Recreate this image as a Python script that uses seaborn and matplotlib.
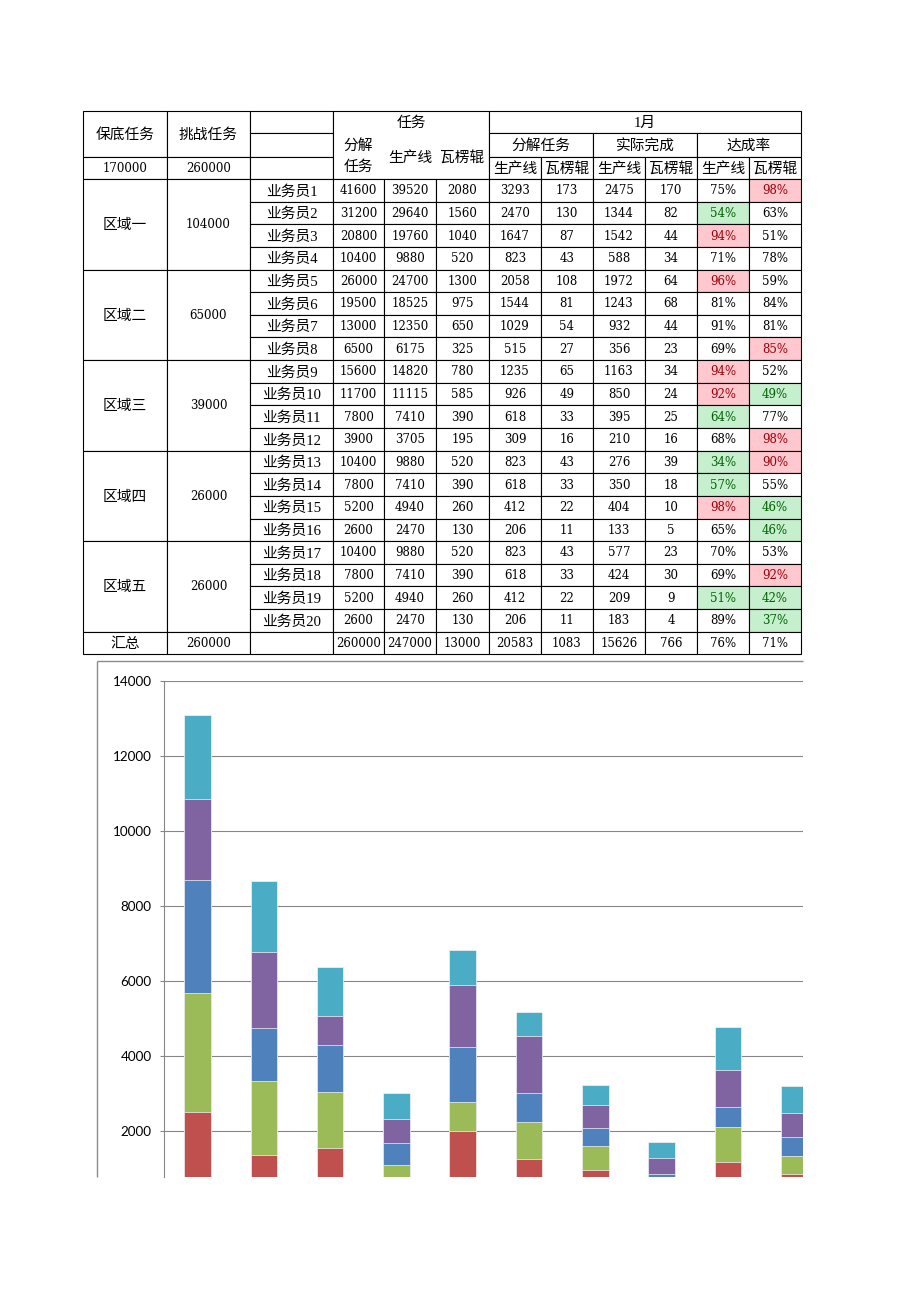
import numpy as np
import pandas as pd
import matplotlib
matplotlib.use("Agg")
import matplotlib.pyplot as plt
from matplotlib.patches import Rectangle
import seaborn as sns

# ---------------- table data ----------------
regions = ["区域一", "区域二", "区域三", "区域四", "区域五"]
region_totals = ["104000", "65000", "39000", "26000", "26000"]
staff = ["业务员1", "业务员2", "业务员3", "业务员4", "业务员5", "业务员6", "业务员7",
         "业务员8", "业务员9", "业务员10", "业务员11", "业务员12", "业务员13", "业务员14",
         "业务员15", "业务员16", "业务员17", "业务员18", "业务员19", "业务员20"]
task_split = [41600, 31200, 20800, 10400, 26000, 19500, 13000, 6500, 15600, 11700,
              7800, 3900, 10400, 7800, 5200, 2600, 10400, 7800, 5200, 2600]
task_line = [39520, 29640, 19760, 9880, 24700, 18525, 12350, 6175, 14820, 11115,
             7410, 3705, 9880, 7410, 4940, 2470, 9880, 7410, 4940, 2470]
task_roll = [2080, 1560, 1040, 520, 1300, 975, 650, 325, 780, 585,
             390, 195, 520, 390, 260, 130, 520, 390, 260, 130]
jan_split_line = [3293, 2470, 1647, 823, 2058, 1544, 1029, 515, 1235, 926,
                  618, 309, 823, 618, 412, 206, 823, 618, 412, 206]
jan_split_roll = [173, 130, 87, 43, 108, 81, 54, 27, 65, 49,
                  33, 16, 43, 33, 22, 11, 43, 33, 22, 11]
jan_done_line = [2475, 1344, 1542, 588, 1972, 1243, 932, 356, 1163, 850,
                 395, 210, 276, 350, 404, 133, 577, 424, 209, 183]
jan_done_roll = [170, 82, 44, 34, 64, 68, 44, 23, 34, 24,
                 25, 16, 39, 18, 10, 5, 23, 30, 9, 4]
rate_line = ["75%", "54%", "94%", "71%", "96%", "81%", "91%", "69%", "94%", "92%",
             "64%", "68%", "34%", "57%", "98%", "65%", "70%", "69%", "51%", "89%"]
rate_roll = ["98%", "63%", "51%", "78%", "59%", "84%", "81%", "85%", "52%", "49%",
             "77%", "98%", "90%", "55%", "46%", "46%", "53%", "92%", "42%", "37%"]
flag_line = ["", "g", "r", "", "r", "", "", "", "r", "r",
             "g", "", "g", "g", "r", "", "", "", "g", ""]
flag_roll = ["r", "", "", "", "", "", "", "r", "", "g",
             "", "r", "r", "", "g", "g", "", "r", "g", "g"]
total_row = ["汇总", "260000", "", "260000", "247000", "13000",
             "20583", "1083", "15626", "766", "76%", "71%"]
base_task, challenge_task = "170000", "260000"

# ---------------- chart data ----------------
categories = ["业务员1", "业务员2", "业务员3", "业务员4", "业务员5",
              "业务员6", "业务员7", "业务员8", "业务员9", "业务员10"]
s_red = [2498, 1360, 1555, 700, 1991, 1262, 952, 400, 1182, 862]
s_green = [3182, 1973, 1485, 385, 782, 970, 648, 300, 916, 463]
s_blue = [3005, 1405, 1253, 595, 1467, 773, 489, 145, 551, 506]
s_purple = [2160, 2027, 774, 649, 1653, 1528, 613, 444, 986, 640]
s_cyan = [2256, 1893, 1306, 693, 943, 649, 516, 409, 1147, 720]
y_ticks = [2000, 4000, 6000, 8000, 10000, 12000, 14000]

series_colors = ["#C0504D", "#9BBB59", "#4F81BD", "#8064A2", "#4BACC6"]

sns.set_style("white")
plt.rcParams["font.family"] = ["Lato", "Noto Sans CJK SC", "DejaVu Sans"]

W, H = 920, 1301
fig = plt.figure(figsize=(W / 100, H / 100), dpi=100)
bg = fig.add_axes([0, 0, 1, 1])
bg.set_xlim(0, W)
bg.set_ylim(H, 0)
bg.axis("off")

# ---------------- table layout ----------------
col_x = [83, 167, 250, 333, 384, 436, 489, 541, 593, 645, 697, 749, 801]
head_y = [111, 133.3, 156.7, 179]
row_h = (631.7 - 179) / 20
body_y = [179 + i * row_h for i in range(21)]
tot_y = [631.7, 653.5]

FILL = {"r": "#FFC7CE", "g": "#C6EFCE", "": "white"}
TXT = {"r": "#9C0006", "g": "#006100", "": "black"}
LW = 0.8


def has_cjk(s):
    return any(ord(ch) > 0x2E80 for ch in s)


def put_text(x, y, s, color="black"):
    if not s:
        return
    if has_cjk(s):
        bg.text(x, y + 0.8, s, ha="center", va="center", fontsize=10.6, color=color,
                family=["Liberation Serif", "Noto Sans CJK SC"])
    else:
        bg.text(x, y, s, ha="center", va="center", fontsize=8.5, color=color,
                family=["DejaVu Serif"])


def cell(c0, c1, y0, y1, s="", flag=""):
    x0, x1 = col_x[c0], col_x[c1]
    bg.add_patch(Rectangle((x0, y0), x1 - x0, y1 - y0, facecolor=FILL[flag],
                           edgecolor="black", lw=LW))
    put_text((x0 + x1) / 2, (y0 + y1) / 2 + 0.5, s, TXT[flag])


# header
cell(0, 1, head_y[0], head_y[2], "保底任务")
cell(1, 2, head_y[0], head_y[2], "挑战任务")
cell(0, 1, head_y[2], head_y[3], base_task)
cell(1, 2, head_y[2], head_y[3], challenge_task)
for r in range(3):
    cell(2, 3, head_y[r], head_y[r + 1])
cell(3, 6, head_y[0], head_y[3])
put_text((col_x[3] + col_x[6]) / 2, 122, "任务")
put_text((col_x[3] + col_x[4]) / 2, 145, "分解")
put_text((col_x[3] + col_x[4]) / 2, 166.5, "任务")
put_text((col_x[4] + col_x[5]) / 2, 157, "生产线")
put_text((col_x[5] + col_x[6]) / 2, 157, "瓦楞辊")
cell(6, 12, head_y[0], head_y[1], "1月")
for k, name in enumerate(["分解任务", "实际完成", "达成率"]):
    cell(6 + 2 * k, 8 + 2 * k, head_y[1], head_y[2], name)
for k in range(6):
    cell(6 + k, 7 + k, head_y[2], head_y[3], "生产线" if k % 2 == 0 else "瓦楞辊")

# body
for g in range(5):
    cell(0, 1, body_y[4 * g], body_y[4 * g + 4], regions[g])
    cell(1, 2, body_y[4 * g], body_y[4 * g + 4], region_totals[g])
for i in range(20):
    y0, y1 = body_y[i], body_y[i + 1]
    vals = [staff[i], task_split[i], task_line[i], task_roll[i], jan_split_line[i],
            jan_split_roll[i], jan_done_line[i], jan_done_roll[i]]
    for k, v in enumerate(vals):
        cell(2 + k, 3 + k, y0, y1, str(v))
    cell(10, 11, y0, y1, rate_line[i], flag_line[i])
    cell(11, 12, y0, y1, rate_roll[i], flag_roll[i])
for k, v in enumerate(total_row):
    cell(k, k + 1, tot_y[0], tot_y[1], v)

# ---------------- chart ----------------
# chart frame (cropped at page edge)
bg.plot([97, 97], [661, 1177], color="#8c8c8c", lw=1.0, solid_capstyle="butt")
bg.plot([97, 803], [661, 661], color="#8c8c8c", lw=1.0, solid_capstyle="butt")

ax_l, ax_r, ax_t, ax_b = 164, 803, 681, 1177
ax = fig.add_axes([ax_l / W, 1 - ax_b / H, (ax_r - ax_l) / W, (ax_b - ax_t) / H])
ax.set_facecolor("white")

layers = np.cumsum(np.array([s_red, s_green, s_blue, s_purple, s_cyan]), axis=0)
for li in range(len(layers) - 1, -1, -1):
    df = pd.DataFrame({"cat": categories, "v": layers[li]})
    sns.barplot(data=df, x="cat", y="v", order=categories, color=series_colors[li],
                saturation=1, width=0.4, errorbar=None, edgecolor="#f4f4f4",
                linewidth=0.5, ax=ax)

ax.set_xlim(-0.505, 9.133)
ax.set_ylim(773, 14000)
ax.set_yticks(y_ticks)
ax.set_yticklabels([str(t) for t in y_ticks])
ax.yaxis.grid(True, color="#868686", lw=0.8)
ax.xaxis.grid(False)
ax.set_axisbelow(True)
ax.set_xlabel("")
ax.set_ylabel("")
ax.tick_params(axis="x", bottom=False, labelbottom=False)
ax.tick_params(axis="y", left=True, length=3, width=0.8, color="#868686", pad=6,
               labelsize=9.7, labelcolor="black")
for lbl in ax.get_yticklabels():
    lbl.set_fontfamily("Lato")
for s in ["top", "right", "bottom"]:
    ax.spines[s].set_visible(False)
ax.spines["left"].set_color("#868686")
ax.spines["left"].set_linewidth(0.8)

fig.savefig("out.png", dpi=100)
